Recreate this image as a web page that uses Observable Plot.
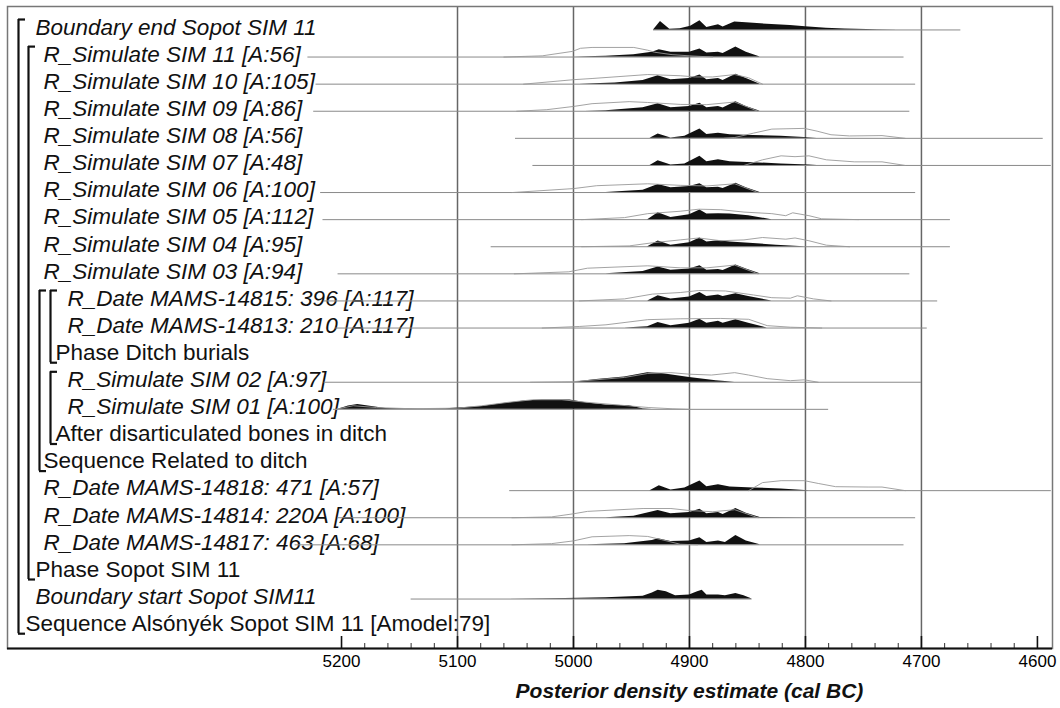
<!DOCTYPE html>
<html><head><meta charset="utf-8">
<script src="https://cdn.jsdelivr.net/npm/d3@7"></script>
<script src="https://cdn.jsdelivr.net/npm/@observablehq/plot@0.6"></script>
<style>
body{margin:0;background:#fff;}
#chart svg{font-family:"Liberation Sans",Arial,Helvetica,sans-serif;}
</style></head><body><div id="chart"></div>
<script>
// ---------- row structure ----------
const rowLabels = [
  "Boundary end Sopot SIM 11",
  "R_Simulate SIM 11 [A:56]",
  "R_Simulate SIM 10 [A:105]",
  "R_Simulate SIM 09 [A:86]",
  "R_Simulate SIM 08 [A:56]",
  "R_Simulate SIM 07 [A:48]",
  "R_Simulate SIM 06 [A:100]",
  "R_Simulate SIM 05 [A:112]",
  "R_Simulate SIM 04 [A:95]",
  "R_Simulate SIM 03 [A:94]",
  "R_Date MAMS-14815: 396 [A:117]",
  "R_Date MAMS-14813: 210 [A:117]",
  "Phase Ditch burials",
  "R_Simulate SIM 02 [A:97]",
  "R_Simulate SIM 01 [A:100]",
  "After disarticulated bones in ditch",
  "Sequence Related to ditch",
  "R_Date MAMS-14818: 471 [A:57]",
  "R_Date MAMS-14814: 220A [A:100]",
  "R_Date MAMS-14817: 463 [A:68]",
  "Phase Sopot SIM 11",
  "Boundary start Sopot SIM11",
  "Sequence Alsónyék Sopot SIM 11 [Amodel:79]"
];
const rowKind  = ["item","item","item","item","item","item","item","item","item","item","item","item","group","item","item","group","group","item","item","item","group","item","group"];
const rowDepth = [1,2,2,2,2,2,2,2,2,2,4,4,3,4,4,3,2,2,2,2,1,1,0];

// groups: label row, first child row, nesting depth
const groupLabelRow = [12, 15, 16, 20, 22];
const groupFirstRow = [10, 13, 10, 1, 0];
const groupDepth    = [3, 3, 2, 1, 0];

// ---------- horizontal range line of each item (cal BC) ----------
const itemRows  = [0,1,2,3,4,5,6,7,8,9,10,11,13,14,17,18,19,21];
const lineStart = [4931,5229,5222,5224,5050,5035,5218,5216,5071,5203,5215,5205,5215,5207,5055,5203,5240,5140];
const lineEnd   = [4666,4715,4705,4710,4595,4588,4705,4675,4675,4710,4686,4695,4700,4780,4588,4705,4715,4846];

// ---------- posterior (black) and unmodelled (outline) densities: [year, height] ----------
const postBoundEnd = [[4931,0],[4925,7],[4917,0.5],[4908,1],[4899,3],[4891,7.7],[4885,2],[4875,4.3],[4871,2.5],[4861,6.7],[4851,6],[4833,4.7],[4813,3.7],[4800,2.7],[4782,1.5],[4766,0.8],[4738,0.2],[4720,0]];
const postSIM11 = [[5000,0],[4972,0.7],[4948,2],[4932,4],[4926,6],[4916,4],[4900,4],[4891,6.7],[4885,3.3],[4875,4],[4871,3],[4860,8.3],[4851,4],[4839,0]];
const likeSIM11 = [[5060,0],[5027,1],[5001,4.7],[4994,7.3],[4984,8],[4948,8],[4936,5.7],[4930,4],[4915,2],[4900,1],[4880,0]];
const postSIM10 = [[4995,0],[4964,1],[4940,3],[4927,7],[4916,3.7],[4900,4.7],[4891,7.7],[4885,3.7],[4875,4.7],[4871,3],[4860,8.3],[4851,4.7],[4839,0]];
const likeSIM10 = [[5043,0],[5000,3.7],[4984,4.7],[4936,8],[4908,7],[4895,6],[4880,6],[4861,8],[4849,5.3],[4837,0]];
const postSIM09 = [[4990,0],[4972,0.5],[4940,3],[4927,6.3],[4916,3],[4900,4],[4891,6.7],[4885,3],[4875,4],[4871,2.7],[4860,8],[4851,4],[4839,0]];
const likeSIM09 = [[5049,0],[5023,1.3],[5000,4],[4984,6.3],[4952,8],[4936,7.3],[4908,5.7],[4885,5.5],[4861,7.7],[4841,0]];
const postSIM08 = [[4934,0],[4927,3.7],[4916,0.3],[4904,1.7],[4891,7.7],[4885,3.3],[4875,4.3],[4865,3],[4845,2.3],[4821,1.7],[4801,0.7],[4790,0]];
const likeSIM08 = [[4870,0],[4861,0.7],[4845,4.3],[4829,7.7],[4801,8.3],[4790,6],[4778,3],[4762,2],[4734,2.3],[4714,0]];
const postSIM07 = [[4934,0],[4927,4],[4916,0.3],[4904,1.3],[4891,7.7],[4885,3],[4875,4.7],[4865,3],[4845,2.3],[4821,1.3],[4797,0.3],[4790,0]];
const likeSIM07 = [[4853,0],[4837,4.7],[4821,8],[4809,7.3],[4797,8],[4782,4.7],[4758,3],[4734,3],[4714,0]];
const postSIM06 = [[4972,0],[4940,2],[4927,6.7],[4916,4],[4900,5],[4891,7.3],[4885,4],[4875,4.5],[4871,3.3],[4860,7.7],[4851,4],[4839,0]];
const likeSIM06 = [[5053,0],[5000,3.3],[4980,5.7],[4936,7.3],[4908,6],[4885,5.5],[4861,7.3],[4841,0]];
const postSIM05 = [[4936,0],[4927,5.7],[4916,1.7],[4900,4],[4891,8],[4885,4.7],[4875,5],[4865,4.7],[4849,3.3],[4829,0]];
const likeSIM05 = [[4993,0],[4956,1.7],[4936,5],[4908,7],[4892,8.7],[4873,8.3],[4853,6.3],[4829,5],[4817,3.3],[4811,5.7],[4797,3.3],[4786,0.7],[4754,0]];
const postSIM04 = [[4936,0],[4927,4.7],[4916,1.3],[4900,3.3],[4891,7.3],[4885,4],[4875,5],[4865,4],[4845,2.7],[4825,1.3],[4801,0]];
const likeSIM04 = [[4993,0],[4952,0.7],[4932,3.3],[4908,5.7],[4892,7.3],[4873,5],[4853,5.7],[4837,7.7],[4817,6.3],[4809,7.3],[4797,5],[4782,1.3],[4762,0]];
const postSIM03 = [[4972,0],[4940,2],[4927,5.7],[4916,3],[4900,4],[4891,6.7],[4885,3],[4875,3.7],[4871,2.7],[4860,7.3],[4851,4],[4839,0]];
const likeSIM03 = [[5051,0],[5004,1.7],[4988,4.7],[4936,6.7],[4908,5],[4885,5],[4861,7.3],[4841,0]];
const post14815 = [[4936,0],[4927,4.3],[4916,1.7],[4900,3.3],[4891,7],[4885,3.7],[4875,5],[4871,3.7],[4860,6],[4849,3.7],[4829,0]];
const like14815 = [[4995,0],[4956,1.7],[4932,5.7],[4908,7],[4892,8.7],[4869,8.3],[4845,5],[4829,2.7],[4813,2.3],[4807,4.3],[4793,1.7],[4778,0]];
const post14813 = [[4956,0],[4936,1],[4927,4.7],[4916,2],[4900,4],[4891,7.3],[4885,4],[4875,5.7],[4871,4],[4860,7],[4849,4],[4833,0]];
const like14813 = [[5027,0],[4995,1.3],[4972,2.7],[4936,7],[4908,7.7],[4873,8],[4849,7.3],[4833,2],[4813,0.7],[4786,0]];
const postSIM02 = [[5000,0],[4980,2.3],[4956,4.3],[4936,8],[4924,7.3],[4900,4],[4877,1.3],[4861,0]];
const likeSIM02 = [[5037,0],[5000,0.5],[4956,4],[4936,7.3],[4916,8],[4900,6.7],[4881,6],[4861,8],[4849,6],[4833,3],[4813,1.3],[4801,2],[4789,0]];
const postSIM01 = [[5203,0],[5194,2.7],[5186,4],[5174,2.3],[5162,0.7],[5130,0.3],[5110,0.5],[5079,2.3],[5059,5],[5043,7],[5027,7.7],[5003,7.7],[4988,5.3],[4972,3.7],[4952,3],[4940,0.5],[4932,0]];
const likeSIM01 = [[5205,0],[5190,3],[5170,1.5],[5140,0.5],[5100,1],[5079,3],[5055,6],[5035,8],[5010,8],[4990,6],[4960,3.5],[4935,1.5],[4915,0.5],[4900,0]];
const post14818 = [[4934,0],[4926,4],[4916,0.5],[4904,2.3],[4891,8],[4885,3.3],[4875,5],[4865,3],[4845,2.3],[4821,1.3],[4797,0]];
const like14818 = [[4849,0],[4837,6.7],[4821,8.3],[4801,8.3],[4789,6],[4774,3.3],[4746,3],[4734,3],[4714,0]];
const post14814 = [[4972,0],[4948,1.3],[4927,6],[4916,3.3],[4900,4.3],[4891,7],[4885,3.3],[4875,4.3],[4871,2.7],[4860,7.7],[4851,3.7],[4839,0.3],[4797,0]];
const like14814 = [[5053,0],[5019,0.7],[5000,3.3],[4988,5.3],[4940,7.7],[4916,7.7],[4900,6],[4880,5],[4861,6.7],[4841,0]];
const post14817 = [[4988,0],[4956,1],[4932,3.7],[4927,5],[4916,2.7],[4900,3.3],[4891,6],[4885,2],[4875,3.3],[4869,2],[4860,7.7],[4851,3.3],[4839,0]];
const like14817 = [[5053,0],[5019,1],[5000,3.3],[4984,6.7],[4952,7.7],[4936,7],[4924,4.3],[4908,0.5],[4893,0]];
const postBoundStart = [[5057,0],[5007,0.5],[4972,1],[4940,2.3],[4932,5],[4927,7.3],[4920,6],[4912,2.7],[4900,3.3],[4893,6],[4889,7.3],[4885,3.3],[4875,3.3],[4869,2.7],[4860,4.7],[4853,2.7],[4846,0]];

const posteriors = [postBoundEnd,postSIM11,postSIM10,postSIM09,postSIM08,postSIM07,postSIM06,postSIM05,postSIM04,postSIM03,post14815,post14813,postSIM02,postSIM01,post14818,post14814,post14817,postBoundStart];
const likelihoods = [null,likeSIM11,likeSIM10,likeSIM09,likeSIM08,likeSIM07,likeSIM06,likeSIM05,likeSIM04,likeSIM03,like14815,like14813,likeSIM02,likeSIM01,like14818,like14814,like14817,null];

// ---------- axis ticks ----------
const majorTicks = [5200,5100,5000,4900,4800,4700,4600];
const minorTicks = [5180,5160,5140,5120,5080,5060,5040,5020,4980,4960,4940,4920,4880,4860,4840,4820,4780,4760,4740,4720,4680,4660,4640,4620];
const gridYears = [5100,5000,4900,4800,4700];
const axisTitle = "Posterior density estimate (cal BC)";

// ---------- layout (styling) ----------
const W = 1060, H = 708, mL = 7, mR = 8, mT = 6, mB = 60;
const xDomain = [5488, 4587];
const rowPx = 27.1;             // pixels per row
const yDomain = [-0.775, 22.915];
const yBottom = yDomain[1];
const baseOff = 0.09;           // baseline offset below text centre (rows)
const hScale = 1.2 / rowPx;     // height units -> rows
const yearsPerPx = (xDomain[0] - xDomain[1]) / (W - mL - mR);
const pxToYear = px => xDomain[0] - (px - mL) * yearsPerPx;
const bracketX = [18, 28, 39, 50];
const groupTextX = [25, 35, 43, 55];
const itemTextX = [null, 35, 43, null, 67];
const labelFont = 22.5;

// ---------- tables ----------
const rows = rowLabels.map((label, i) => ({
  row: i, label, kind: rowKind[i], depth: rowDepth[i],
  px: rowKind[i] === "group" ? groupTextX[rowDepth[i]] : itemTextX[rowDepth[i]]
}));
const lines = itemRows.map((r, i) => ({row: r, base: r + baseOff, x1: lineStart[i], x2: lineEnd[i]}));
const postTable = [], likeTable = [];
itemRows.forEach((r, i) => {
  posteriors[i].forEach(([year, h]) => postTable.push({row: r, year, base: r + baseOff, top: r + baseOff - h * hScale}));
  if (likelihoods[i]) likelihoods[i].forEach(([year, h]) => likeTable.push({row: r, year, top: r + baseOff - h * hScale}));
});
const brackets = groupLabelRow.map((lr, i) => ({
  x: pxToYear(bracketX[groupDepth[i]]),
  xf: pxToYear(bracketX[groupDepth[i]] + 7),
  y1: groupFirstRow[i] - 8 / rowPx,
  y2: lr + 10 / rowPx
}));
const bracketFeet = brackets.flatMap(b => [{x1: b.x, x2: b.xf, y: b.y1}, {x1: b.x, x2: b.xf, y: b.y2}]);

const textMarks = [];
for (const px of [...new Set(rows.map(d => d.px))]) {
  for (const kind of ["item", "group"]) {
    const sub = rows.filter(d => d.px === px && d.kind === kind);
    if (!sub.length) continue;
    textMarks.push(Plot.text(sub, {
      y: "row", text: "label", frameAnchor: "left", dx: px - mL,
      textAnchor: "start", lineAnchor: "middle", fontSize: labelFont,
      fontStyle: kind === "item" ? "italic" : "normal", fill: "#111"
    }));
  }
}

const chart = Plot.plot({
  width: W, height: H,
  marginLeft: mL, marginRight: mR, marginTop: mT, marginBottom: mB,
  x: {domain: xDomain},
  y: {domain: yDomain, reverse: true, axis: null},
  style: {background: "white", fontFamily: "'Liberation Sans', Arial, Helvetica, sans-serif"},
  marks: [
    Plot.ruleX(gridYears, {stroke: "#666", strokeWidth: 1.5}),
    Plot.frame({stroke: "#777", strokeWidth: 1.5}),
    ...textMarks,
    Plot.ruleY(lines, {y: "base", x1: "x1", x2: "x2", stroke: "#8a8a8a", strokeWidth: 1}),
    Plot.areaY(postTable, {x: "year", y1: "base", y2: "top", z: "row", fill: "#111", curve: "linear"}),
    Plot.line(likeTable, {x: "year", y: "top", z: "row", stroke: "#999", strokeWidth: 0.9, curve: "linear"}),
    Plot.ruleX(brackets, {x: "x", y1: "y1", y2: "y2", stroke: "#111", strokeWidth: 2.2}),
    Plot.ruleY(bracketFeet, {y: "y", x1: "x1", x2: "x2", stroke: "#111", strokeWidth: 2.2}),
    Plot.ruleX(majorTicks, {x: d => d, y1: yBottom, y2: yBottom - 12 / rowPx, stroke: "#111", strokeWidth: 1.6}),
    Plot.ruleX(minorTicks, {x: d => d, y1: yBottom, y2: yBottom - 5 / rowPx, stroke: "#333", strokeWidth: 1}),
    Plot.ruleY([yBottom], {stroke: "#111", strokeWidth: 2}),
    Plot.axisX(majorTicks, {anchor: "bottom", tickSize: 0, tickPadding: 6, fontSize: 17, tickFormat: d => `${d}`, label: null}),
    Plot.text([axisTitle], {x: (majorTicks[0] + majorTicks[majorTicks.length - 1]) / 2, frameAnchor: "bottom", dy: 49, text: d => d, fontSize: 21, fontWeight: "bold", fontStyle: "italic", fill: "#111"})
  ]
});
document.getElementById("chart").appendChild(chart);
</script></body></html>
